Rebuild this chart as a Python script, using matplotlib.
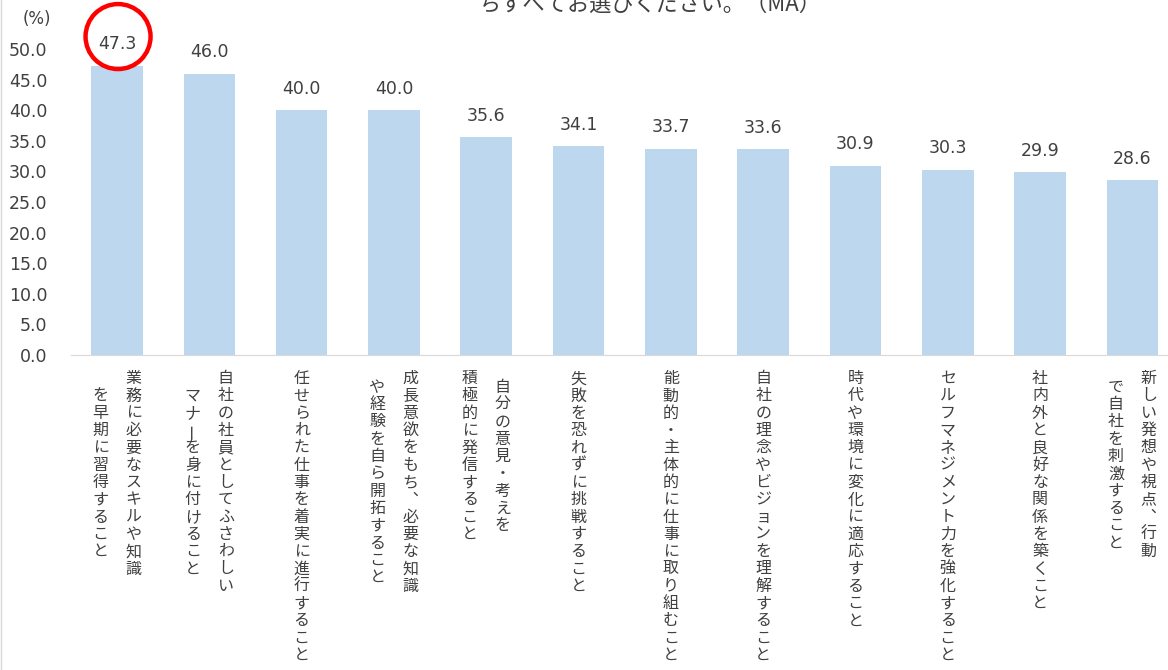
import matplotlib
matplotlib.use('Agg')
import matplotlib.pyplot as plt
import matplotlib.patches as mpatches
import matplotlib.transforms as mtransforms
from matplotlib.lines import Line2D

plt.rcParams['font.family'] = ['Noto Sans CJK JP', 'DejaVu Sans']

# --- data ---
categories = [
    '業務に必要なスキルや知識\nを早期に習得すること',
    '自社の社員としてふさわしい\nマナーを身に付けること',
    '任せられた仕事を着実に進行すること',
    '成長意欲をもち、必要な知識\nや経験を自ら開拓すること',
    '自分の意見・考えを\n積極的に発信すること',
    '失敗を恐れずに挑戦すること',
    '能動的・主体的に仕事に取り組むこと',
    '自社の理念やビジョンを理解すること',
    '時代や環境に変化に適応すること',
    'セルフマネジメント力を強化すること',
    '社内外と良好な関係を築くこと',
    '新しい発想や視点、行動\nで自社を刺激すること',
]
values = [47.3, 46.0, 40.0, 40.0, 35.6, 34.1, 33.7, 33.6, 30.9, 30.3, 29.9, 28.6]
yticks = [0, 5, 10, 15, 20, 25, 30, 35, 40, 45, 50]
title_line = 'ちすべてお選びください。（MA）'

W, H = 1168, 670
PT = 0.72  # px -> pt at dpi 100
txt_color = '#404040'
num_font = ['DejaVu Sans']

fig = plt.figure(figsize=(W / 100, H / 100), dpi=100)
ax = fig.add_axes([70.9 / W, 0.4701, 1107.6 / W, 0.4567])

x = list(range(len(values)))
ax.bar(x, values, width=0.56, color='#BDD7EE')
ax.set_xlim(-0.5, len(values) - 0.5)
ax.set_ylim(0, 50)
ax.set_yticks(yticks)
ax.set_yticklabels([f'{v:.1f}' for v in yticks], fontsize=12.5, color=txt_color,
                   family=num_font)
ax.tick_params(axis='y', length=0, pad=17)
ax.set_xticks([])
for s in ['top', 'right', 'left']:
    ax.spines[s].set_visible(False)
ax.spines['bottom'].set_color('#D9D9D9')

# value labels
for i, v in enumerate(values):
    ax.annotate(f'{v:.1f}', xy=(i, v), xytext=(0, 9), textcoords='offset points',
                ha='center', va='bottom', fontsize=12.5, color=txt_color,
                family=num_font, annotation_clip=False)

# red circle around the top value
imax = values.index(max(values))
trans = fig.dpi_scale_trans + mtransforms.ScaledTranslation(imax, values[imax], ax.transData)
circ = mpatches.Circle((0.01, 0.29), 0.325, fill=False, ec='#FF0000', lw=3.2, transform=trans)
fig.add_artist(circ)

# vertical category labels (each char stacked)
cell = 17.3
col_gap = 33
top_gap = 15
vert_map = {'、': '︑'}
for i, lab in enumerate(categories):
    lines = lab.split('\n')
    nmax = max(len(l) for l in lines)
    ncol = len(lines)
    for j, line in enumerate(lines):
        dx = (ncol - 1) / 2 * col_gap - j * col_gap
        start = top_gap + (nmax - len(line)) / 2 * cell
        for k, ch in enumerate(line):
            dy = start + k * cell + cell / 2
            rot = 0
            if ch == 'ー':
                rot = 90
            ch = vert_map.get(ch, ch)
            ax.annotate(ch, xy=(i, 0), xycoords=('data', 'axes fraction'),
                        xytext=(dx * PT, -dy * PT), textcoords='offset points',
                        ha='center', va='center', fontsize=11.5, rotation=rot,
                        color=txt_color, annotation_clip=False)

fig.text(37 / W, 1 - 19 / H, '(%)', ha='center', va='center', fontsize=12,
         color=txt_color, family=num_font)
fig.text(650 / W, 1 - 4 / H, title_line, ha='center', va='center', fontsize=16,
         color=txt_color)
fig.add_artist(Line2D([0.5 / W, 0.5 / W], [0, 1], transform=fig.transFigure,
                      color='#D9D9D9', lw=1))

fig.savefig('out.png', dpi=100)
